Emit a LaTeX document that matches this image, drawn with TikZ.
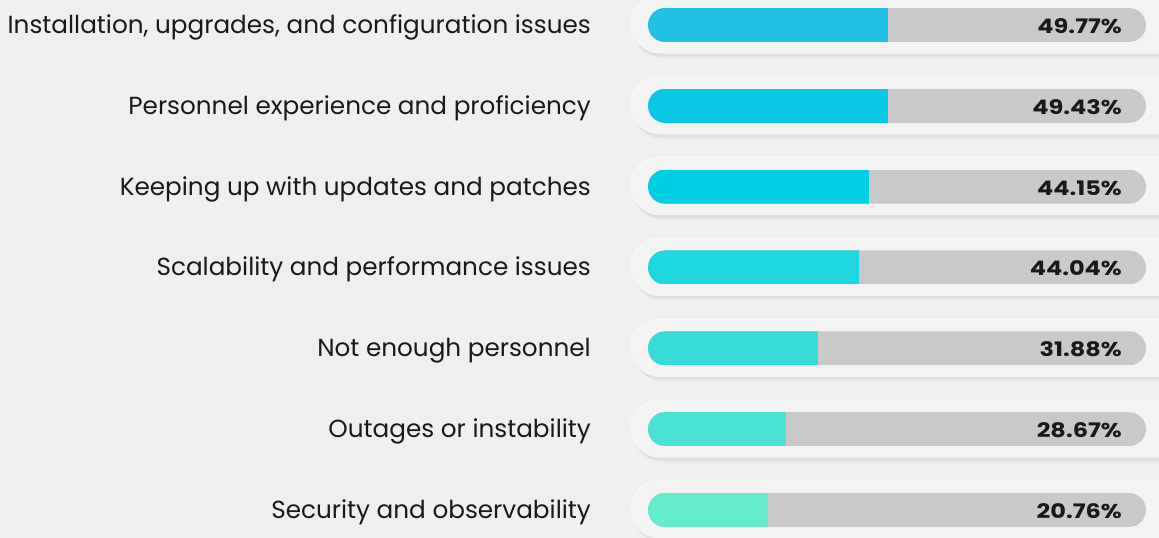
\documentclass[tikz,border=0pt]{standalone}
\usepackage{fontspec}
\setmainfont{Poppins}
\newfontfamily\pctfont[FakeStretch=1.2]{Poppins}
\definecolor{bg}{HTML}{EFEFEF}
\definecolor{pill}{HTML}{F3F3F3}
\definecolor{pillshadow}{HTML}{D5D6DE}
\definecolor{pilllight}{HTML}{F8F8F8}
\definecolor{track}{HTML}{C9C9C9}
\definecolor{cA}{HTML}{22C1E6}
\definecolor{cB}{HTML}{08C8E6}
\definecolor{cC}{HTML}{00CFE3}
\definecolor{cD}{HTML}{1ED8DF}
\definecolor{cE}{HTML}{35DCD8}
\definecolor{cF}{HTML}{4AE2D4}
\definecolor{cG}{HTML}{62EBCC}
\tikzset{
  labeltext/.style={anchor=base east, inner sep=0pt, font=\fontsize{24.7}{28}\selectfont, text=black!90},
  pcttext/.style={anchor=base east, inner sep=0pt, font=\pctfont\fontsize{20}{24}\selectfont\bfseries, text=black!90},
}
\begin{document}
\begin{tikzpicture}[x=1pt,y=-1pt]
\fill[bg] (0,0) rectangle (1159,538);
\useasboundingbox (0,0) rectangle (1159,538);
\foreach \i/\lab/\pct/\fe/\col in {
  0/{Installation, upgrades, and configuration issues}/49.77/888/cA,
  1/{Personnel experience and proficiency}/49.43/888/cB,
  2/{Keeping up with updates and patches}/44.15/869/cC,
  3/{Scalability and performance issues}/44.04/859/cD,
  4/{Not enough personnel}/31.88/818/cE,
  5/{Outages or instability}/28.67/786/cF,
  6/{Security and observability}/20.76/768/cG}
{
  \pgfmathsetmacro\yc{25+80.83*\i}
  % outer pill with soft shadow
  \fill[pillshadow, opacity=0.35, rounded corners=30pt] (633,\yc-26) rectangle (1200,\yc+33);
  \fill[pillshadow, opacity=0.5, rounded corners=29pt] (632,\yc-27) rectangle (1200,\yc+31);
  \fill[pilllight, rounded corners=29pt] (630,\yc-29.5) rectangle (1200,\yc+27);
  \fill[pill, rounded corners=28.5pt] (631,\yc-28.5) rectangle (1200,\yc+28.5);
  % track and value
  \begin{scope}
    \clip[rounded corners=17pt] (648,\yc-17) rectangle (1146,\yc+17);
    \fill[track] (648,\yc-17) rectangle (1146,\yc+17);
    \fill[\col] (648,\yc-17) rectangle (\fe,\yc+17);
  \end{scope}
  \node[labeltext] (L\i) at (591,\yc+8.5) {\lab};
  \node[pcttext] (P\i) at (1122,\yc+8.5) {\pct\%};
}
\end{tikzpicture}
\end{document}
